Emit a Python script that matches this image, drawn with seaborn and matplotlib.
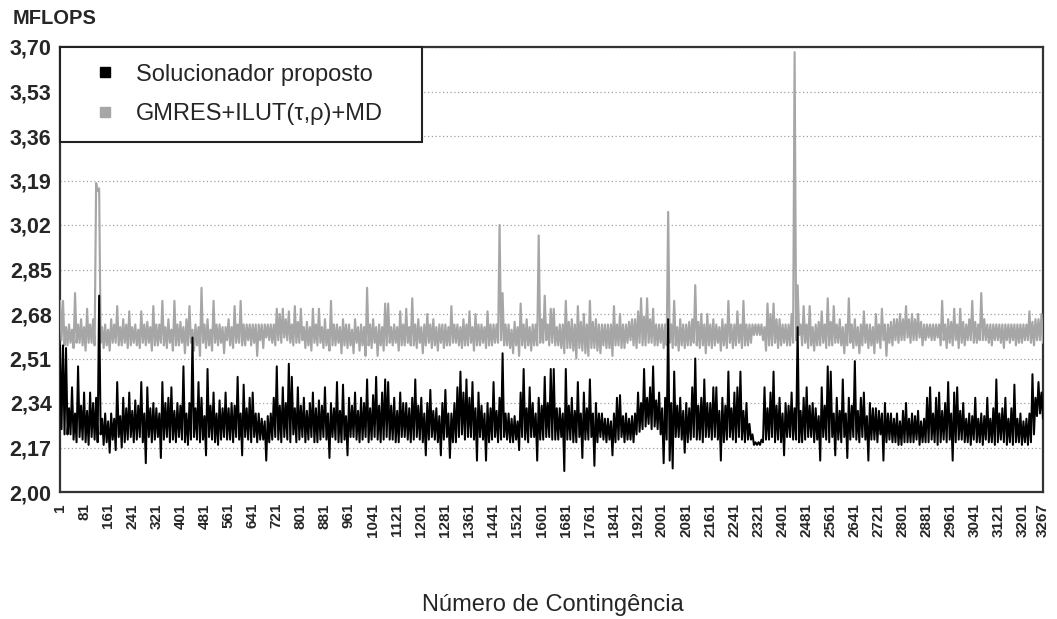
import numpy as np
import pandas as pd
import matplotlib
matplotlib.use("Agg")
import matplotlib.pyplot as plt
import seaborn as sns
from matplotlib.lines import Line2D
from matplotlib.ticker import FuncFormatter

# ---------------- data ----------------
# The reference has 3267 contingencies in ~983 px, so each ~3 px column holds a
# whole range of values.  For every column the upper and the lower value seen
# in the picture are listed; the series runs upper, lower, upper, lower, ...
series_names = ["Solucionador proposto", "GMRES+ILUT(\u03c4,\u03c1)+MD"]
contingency_first = 1
contingency_last = 3267

solver_upper = [
    2.56, 2.56, 2.55, 2.32, 2.40, 2.30, 2.48, 2.33, 2.38, 2.31,
    2.38, 2.34, 2.36, 2.75, 2.28, 2.30, 2.27, 2.30, 2.28, 2.42,
    2.29, 2.36, 2.32, 2.38, 2.31, 2.35, 2.33, 2.42, 2.30, 2.40,
    2.32, 2.34, 2.32, 2.30, 2.42, 2.34, 2.36, 2.40, 2.31, 2.34,
    2.33, 2.48, 2.30, 2.34, 2.59, 2.32, 2.42, 2.36, 2.29, 2.47,
    2.33, 2.38, 2.30, 2.35, 2.32,
    2.38, 2.32, 2.34, 2.33, 2.44, 2.30, 2.41, 2.32, 2.36, 2.38,
    2.30, 2.30, 2.28, 2.27, 2.29, 2.30, 2.36, 2.48, 2.33, 2.40,
    2.34, 2.49, 2.44, 2.32, 2.40, 2.33, 2.36, 2.31, 2.34, 2.38,
    2.32, 2.35, 2.33, 2.40, 2.30, 2.34, 2.32, 2.42, 2.31, 2.41,
    2.29, 2.36, 2.33, 2.38, 2.31, 2.36, 2.34, 2.43, 2.32, 2.37,
    2.44, 2.33, 2.38, 2.43,
    2.42, 2.33, 2.36, 2.31, 2.38, 2.34, 2.34, 2.32, 2.36, 2.43,
    2.33, 2.36, 2.30, 2.34, 2.39, 2.31, 2.32, 2.29, 2.34, 2.39,
    2.30, 2.30, 2.34, 2.40, 2.46, 2.38, 2.43, 2.36, 2.42, 2.32,
    2.38, 2.33, 2.30, 2.34, 2.32, 2.42, 2.31, 2.36, 2.53, 2.30,
    2.30, 2.28, 2.29, 2.27, 2.38, 2.47, 2.32, 2.40, 2.34, 2.30,
    2.36, 2.33, 2.44, 2.34, 2.47,
    2.47, 2.32, 2.32, 2.30, 2.47, 2.33, 2.36, 2.31, 2.42, 2.30,
    2.38, 2.32, 2.43, 2.30, 2.34, 2.30, 2.30, 2.28, 2.28, 2.27,
    2.30, 2.36, 2.37, 2.29, 2.30, 2.28, 2.29, 2.30, 2.38, 2.34,
    2.47, 2.36, 2.40, 2.48, 2.35, 2.38, 2.32, 2.36, 2.66, 2.34,
    2.46, 2.33, 2.36, 2.31, 2.34, 2.32, 2.40, 2.51, 2.33, 2.36,
    2.43, 2.34, 2.34, 2.40,
    2.40, 2.31, 2.36, 2.33, 2.46, 2.32, 2.38, 2.40, 2.46, 2.31,
    2.34, 2.26, 2.22, 2.19, 2.19, 2.20, 2.40, 2.32, 2.38, 2.46,
    2.33, 2.36, 2.30, 2.34, 2.33, 2.38, 2.32, 2.63, 2.31, 2.36,
    2.40, 2.33, 2.34, 2.32, 2.29, 2.40, 2.33, 2.48, 2.46, 2.30,
    2.36, 2.31, 2.43, 2.30, 2.36, 2.33, 2.50, 2.31, 2.36, 2.38,
    2.29, 2.34, 2.32, 2.32, 2.31,
    2.30, 2.34, 2.30, 2.30, 2.28, 2.30, 2.27, 2.31, 2.34, 2.28,
    2.30, 2.29, 2.31, 2.27, 2.28, 2.36, 2.40, 2.30, 2.36, 2.38,
    2.31, 2.34, 2.42, 2.30, 2.38, 2.40, 2.31, 2.34, 2.28, 2.30,
    2.29, 2.36, 2.28, 2.30, 2.29, 2.36, 2.28, 2.32, 2.43, 2.30,
    2.32, 2.36, 2.28, 2.32, 2.41, 2.28, 2.30, 2.27, 2.28, 2.30,
    2.45, 2.36, 2.42, 2.38,
]

solver_lower = [
    2.24, 2.22, 2.22, 2.22, 2.20, 2.19, 2.21, 2.20, 2.19, 2.18,
    2.21, 2.20, 2.19, 2.22, 2.18, 2.19, 2.15, 2.20, 2.16, 2.21,
    2.17, 2.19, 2.20, 2.21, 2.19, 2.20, 2.21, 2.19, 2.11, 2.21,
    2.19, 2.20, 2.21, 2.13, 2.20, 2.21, 2.19, 2.20, 2.19, 2.21,
    2.20, 2.19, 2.18, 2.20, 2.21, 2.20, 2.19, 2.20, 2.14, 2.21,
    2.20, 2.19, 2.18, 2.20, 2.21,
    2.20, 2.20, 2.19, 2.21, 2.20, 2.14, 2.21, 2.20, 2.19, 2.21,
    2.19, 2.20, 2.20, 2.12, 2.19, 2.20, 2.21, 2.20, 2.19, 2.21,
    2.20, 2.19, 2.22, 2.19, 2.20, 2.21, 2.19, 2.20, 2.21, 2.19,
    2.19, 2.20, 2.21, 2.20, 2.13, 2.21, 2.20, 2.19, 2.19, 2.20,
    2.14, 2.21, 2.21, 2.20, 2.19, 2.20, 2.21, 2.19, 2.20, 2.21,
    2.20, 2.19, 2.20, 2.21,
    2.20, 2.20, 2.19, 2.19, 2.21, 2.21, 2.20, 2.19, 2.20, 2.21,
    2.20, 2.19, 2.14, 2.20, 2.21, 2.20, 2.19, 2.14, 2.20, 2.21,
    2.13, 2.19, 2.19, 2.21, 2.22, 2.20, 2.21, 2.21, 2.20, 2.12,
    2.21, 2.20, 2.12, 2.19, 2.20, 2.21, 2.19, 2.20, 2.21, 2.20,
    2.19, 2.19, 2.20, 2.16, 2.21, 2.20, 2.19, 2.21, 2.21, 2.12,
    2.20, 2.20, 2.21, 2.21, 2.20,
    2.20, 2.20, 2.21, 2.08, 2.20, 2.20, 2.19, 2.19, 2.21, 2.13,
    2.20, 2.20, 2.21, 2.10, 2.19, 2.21, 2.20, 2.19, 2.20, 2.14,
    2.19, 2.20, 2.21, 2.19, 2.20, 2.20, 2.19, 2.22, 2.23, 2.24,
    2.25, 2.26, 2.24, 2.25, 2.24, 2.22, 2.11, 2.20, 2.12, 2.09,
    2.21, 2.21, 2.20, 2.15, 2.19, 2.20, 2.21, 2.20, 2.20, 2.19,
    2.21, 2.21, 2.20, 2.21,
    2.20, 2.12, 2.19, 2.20, 2.21, 2.20, 2.19, 2.21, 2.20, 2.19,
    2.20, 2.20, 2.18, 2.18, 2.18, 2.19, 2.20, 2.20, 2.21, 2.19,
    2.20, 2.19, 2.14, 2.21, 2.21, 2.20, 2.20, 2.19, 2.19, 2.20,
    2.21, 2.21, 2.19, 2.20, 2.12, 2.21, 2.20, 2.19, 2.21, 2.14,
    2.20, 2.19, 2.21, 2.13, 2.20, 2.21, 2.20, 2.19, 2.21, 2.20,
    2.12, 2.20, 2.20, 2.19, 2.22,
    2.12, 2.19, 2.20, 2.19, 2.19, 2.18, 2.18, 2.19, 2.19, 2.19,
    2.19, 2.20, 2.18, 2.19, 2.19, 2.19, 2.20, 2.19, 2.18, 2.19,
    2.20, 2.19, 2.20, 2.12, 2.19, 2.20, 2.20, 2.19, 2.19, 2.18,
    2.20, 2.19, 2.19, 2.18, 2.20, 2.19, 2.19, 2.18, 2.19, 2.20,
    2.19, 2.18, 2.19, 2.18, 2.19, 2.19, 2.18, 2.19, 2.18, 2.19,
    2.22, 2.29, 2.30, 2.28,
]

gmres_upper = [
    2.73, 2.73, 2.63, 2.64, 2.62, 2.76, 2.64, 2.66, 2.63, 2.70,
    2.64, 2.66, 3.18, 3.16, 2.63, 2.64, 2.62, 2.66, 2.64, 2.71,
    2.63, 2.66, 2.64, 2.69, 2.63, 2.64, 2.62, 2.69, 2.64, 2.65,
    2.63, 2.71, 2.64, 2.64, 2.73, 2.63, 2.66, 2.62, 2.73, 2.64,
    2.65, 2.63, 2.66, 2.71, 2.62, 2.64, 2.63, 2.78, 2.64, 2.66,
    2.62, 2.73, 2.64, 2.64, 2.63,
    2.63, 2.66, 2.63, 2.71, 2.64, 2.73, 2.64, 2.64, 2.64, 2.64,
    2.64, 2.64, 2.64, 2.64, 2.64, 2.64, 2.64, 2.70, 2.68, 2.70,
    2.66, 2.69, 2.64, 2.71, 2.65, 2.70, 2.63, 2.65, 2.63, 2.70,
    2.64, 2.70, 2.63, 2.66, 2.62, 2.73, 2.64, 2.64, 2.63, 2.66,
    2.64, 2.64, 2.62, 2.66, 2.63, 2.64, 2.63, 2.78, 2.64, 2.66,
    2.63, 2.64, 2.63, 2.72,
    2.72, 2.63, 2.64, 2.63, 2.69, 2.64, 2.70, 2.63, 2.74, 2.64,
    2.66, 2.63, 2.64, 2.68, 2.64, 2.66, 2.63, 2.64, 2.64, 2.64,
    2.63, 2.71, 2.64, 2.64, 2.63, 2.66, 2.64, 2.69, 2.63, 2.68,
    2.64, 2.64, 2.63, 2.69, 2.64, 2.64, 2.64, 3.02, 2.76, 2.64,
    2.64, 2.62, 2.65, 2.63, 2.72, 2.64, 2.66, 2.63, 2.64, 2.64,
    2.98, 2.66, 2.75, 2.64, 2.70,
    2.70, 2.63, 2.64, 2.64, 2.73, 2.65, 2.66, 2.64, 2.71, 2.65,
    2.68, 2.64, 2.73, 2.65, 2.66, 2.64, 2.64, 2.64, 2.64, 2.64,
    2.71, 2.64, 2.68, 2.64, 2.64, 2.65, 2.66, 2.66, 2.69, 2.74,
    2.67, 2.74, 2.66, 2.70, 2.64, 2.64, 2.64, 2.64, 3.07, 2.64,
    2.73, 2.63, 2.66, 2.64, 2.64, 2.65, 2.66, 2.79, 2.65, 2.68,
    2.64, 2.68, 2.64, 2.66,
    2.64, 2.63, 2.66, 2.64, 2.73, 2.64, 2.64, 2.69, 2.64, 2.73,
    2.64, 2.64, 2.64, 2.64, 2.64, 2.64, 2.63, 2.72, 2.68, 2.72,
    2.66, 2.66, 2.64, 2.64, 2.64, 2.68, 3.68, 2.79, 2.64, 2.71,
    2.64, 2.71, 2.63, 2.64, 2.65, 2.69, 2.64, 2.74, 2.65, 2.71,
    2.64, 2.66, 2.63, 2.64, 2.74, 2.64, 2.66, 2.63, 2.64, 2.69,
    2.64, 2.64, 2.63, 2.68, 2.64,
    2.70, 2.64, 2.64, 2.65, 2.66, 2.66, 2.68, 2.66, 2.71, 2.66,
    2.68, 2.66, 2.68, 2.65, 2.64, 2.64, 2.64, 2.64, 2.64, 2.64,
    2.73, 2.64, 2.66, 2.65, 2.70, 2.64, 2.70, 2.65, 2.64, 2.66,
    2.73, 2.65, 2.64, 2.76, 2.66, 2.64, 2.64, 2.64, 2.64, 2.64,
    2.64, 2.64, 2.64, 2.64, 2.64, 2.64, 2.64, 2.64, 2.64, 2.69,
    2.65, 2.66, 2.66, 2.68,
]

gmres_lower = [
    2.58, 2.56, 2.56, 2.57, 2.55, 2.57, 2.57, 2.56, 2.54, 2.57,
    2.57, 2.56, 3.15, 2.57, 2.55, 2.56, 2.54, 2.57, 2.57, 2.56,
    2.56, 2.57, 2.55, 2.56, 2.57, 2.56, 2.55, 2.57, 2.56, 2.57,
    2.54, 2.56, 2.56, 2.57, 2.56, 2.55, 2.57, 2.54, 2.56, 2.56,
    2.57, 2.53, 2.56, 2.57, 2.54, 2.56, 2.52, 2.57, 2.55, 2.56,
    2.54, 2.57, 2.56, 2.57, 2.53,
    2.58, 2.56, 2.55, 2.57, 2.57, 2.56, 2.56, 2.58, 2.56, 2.57,
    2.52, 2.58, 2.55, 2.59, 2.58, 2.57, 2.56, 2.58, 2.57, 2.59,
    2.58, 2.57, 2.56, 2.57, 2.57, 2.58, 2.55, 2.56, 2.54, 2.57,
    2.56, 2.57, 2.55, 2.56, 2.54, 2.56, 2.56, 2.57, 2.53, 2.56,
    2.55, 2.56, 2.53, 2.57, 2.54, 2.56, 2.52, 2.56, 2.55, 2.57,
    2.52, 2.56, 2.54, 2.56,
    2.57, 2.56, 2.57, 2.54, 2.56, 2.56, 2.57, 2.56, 2.56, 2.55,
    2.57, 2.53, 2.56, 2.57, 2.55, 2.56, 2.54, 2.57, 2.55, 2.56,
    2.56, 2.57, 2.57, 2.56, 2.55, 2.56, 2.56, 2.57, 2.54, 2.56,
    2.56, 2.57, 2.55, 2.56, 2.56, 2.57, 2.57, 2.58, 2.56, 2.56,
    2.55, 2.53, 2.56, 2.52, 2.56, 2.55, 2.56, 2.54, 2.56, 2.56,
    2.57, 2.57, 2.58, 2.56, 2.57,
    2.56, 2.56, 2.55, 2.53, 2.55, 2.55, 2.54, 2.51, 2.55, 2.54,
    2.53, 2.52, 2.55, 2.55, 2.54, 2.53, 2.56, 2.55, 2.55, 2.52,
    2.56, 2.56, 2.55, 2.55, 2.57, 2.58, 2.56, 2.55, 2.57, 2.56,
    2.56, 2.57, 2.57, 2.56, 2.56, 2.57, 2.55, 2.56, 2.57, 2.55,
    2.56, 2.54, 2.56, 2.55, 2.56, 2.56, 2.57, 2.56, 2.55, 2.56,
    2.53, 2.56, 2.55, 2.56,
    2.57, 2.54, 2.56, 2.55, 2.57, 2.55, 2.56, 2.57, 2.55, 2.56,
    2.56, 2.57, 2.60, 2.60, 2.60, 2.58, 2.54, 2.56, 2.56, 2.57,
    2.55, 2.56, 2.57, 2.56, 2.56, 2.57, 2.58, 2.60, 2.56, 2.57,
    2.55, 2.56, 2.54, 2.56, 2.56, 2.57, 2.55, 2.56, 2.56, 2.57,
    2.57, 2.56, 2.53, 2.56, 2.57, 2.55, 2.56, 2.53, 2.56, 2.57,
    2.55, 2.56, 2.53, 2.57, 2.55,
    2.58, 2.52, 2.57, 2.56, 2.58, 2.57, 2.58, 2.58, 2.59, 2.57,
    2.58, 2.58, 2.59, 2.56, 2.58, 2.59, 2.58, 2.58, 2.59, 2.56,
    2.58, 2.55, 2.57, 2.56, 2.58, 2.55, 2.57, 2.56, 2.58, 2.58,
    2.57, 2.57, 2.58, 2.58, 2.58, 2.57, 2.56, 2.58, 2.58, 2.57,
    2.55, 2.58, 2.57, 2.58, 2.56, 2.57, 2.57, 2.58, 2.58, 2.57,
    2.56, 2.58, 2.58, 2.57,
]

xtick_values = [1, 81, 161, 241, 321, 401, 481, 561, 641, 721, 801, 881, 961, 1041, 1121, 1201,
                1281, 1361, 1441, 1521, 1601, 1681, 1761, 1841, 1921, 2001, 2081, 2161, 2241,
                2321, 2401, 2481, 2561, 2641, 2721, 2801, 2881, 2961, 3041, 3121, 3201, 3267]
ytick_values = [2.00, 2.17, 2.34, 2.51, 2.68, 2.85, 3.02, 3.19, 3.36, 3.53, 3.70]

color_solver = "#000000"
color_gmres = "#a6a6a6"


# ---------------- build tables ----------------
def series_frame(upper, lower):
    n = min(len(upper), len(lower))
    vals = np.column_stack((upper[:n], lower[:n])).ravel()
    return pd.DataFrame({
        "contingencia": np.linspace(contingency_first, contingency_last, len(vals)),
        "mflops": vals,
    })


df_solver = series_frame(solver_upper, solver_lower)
df_gmres = series_frame(gmres_upper, gmres_lower)

# ---------------- style ----------------
sns.set_style("white")
plt.rcParams["font.family"] = ["Liberation Sans", "DejaVu Sans"]

W, H = 1057, 619
fig = plt.figure(figsize=(W / 100, H / 100), dpi=100)
ax = fig.add_axes([60 / W, 1 - 492 / H, 983 / W, 445 / H])

sns.lineplot(data=df_gmres, x="contingencia", y="mflops", ax=ax, color=color_gmres,
             linewidth=1.55, estimator=None, sort=False, legend=False, zorder=3)
sns.lineplot(data=df_solver, x="contingencia", y="mflops", ax=ax, color=color_solver,
             linewidth=1.45, estimator=None, sort=False, legend=False, zorder=4)

ax.set_xlim(contingency_first, contingency_last)
ax.set_ylim(ytick_values[0], ytick_values[-1])
ax.set_yticks(ytick_values)
ax.yaxis.set_major_formatter(FuncFormatter(lambda v, _: f"{v:.2f}".replace(".", ",")))
ax.set_xticks(xtick_values)
ax.set_xticklabels([str(v) for v in xtick_values], rotation=90, fontsize=11, fontweight="bold")
for lab in ax.get_yticklabels():
    lab.set_fontsize(15.5)
    lab.set_fontweight("bold")
ax.tick_params(axis="both", length=0)
ax.tick_params(axis="y", pad=6)
ax.tick_params(axis="x", pad=8)
ax.set_xlabel("")
ax.set_ylabel("")

ax.yaxis.grid(True, linestyle=(0, (1, 2)), color="#a0a0a0", linewidth=0.9)
ax.xaxis.grid(False)
ax.set_axisbelow(True)
for sp in ax.spines.values():
    sp.set_visible(True)
    sp.set_color("#333333")
    sp.set_linewidth(1.6)

handles = [
    Line2D([], [], marker="s", linestyle="none", color=color_solver, markersize=7.5),
    Line2D([], [], marker="s", linestyle="none", color=color_gmres, markersize=7.5),
]
leg = ax.legend(handles, series_names, loc="upper left",
                bbox_to_anchor=(0, 1, 362 / 983, 0), mode="expand",
                borderaxespad=0, borderpad=0.7, handlelength=2.45, handletextpad=0.05,
                labelspacing=0.75, fontsize=17, frameon=True, fancybox=False,
                edgecolor="#222222", framealpha=1)
leg.get_frame().set_linewidth(1.5)
leg.set_zorder(10)

fig.text(13 / W, 1 - 18 / H, "MFLOPS", fontsize=14.5, fontweight="bold", va="center", ha="left")
fig.text(553 / W, 1 - 605 / H, "N\u00famero de Conting\u00eancia", fontsize=17, va="center", ha="center")

fig.savefig("out.png", dpi=100)
